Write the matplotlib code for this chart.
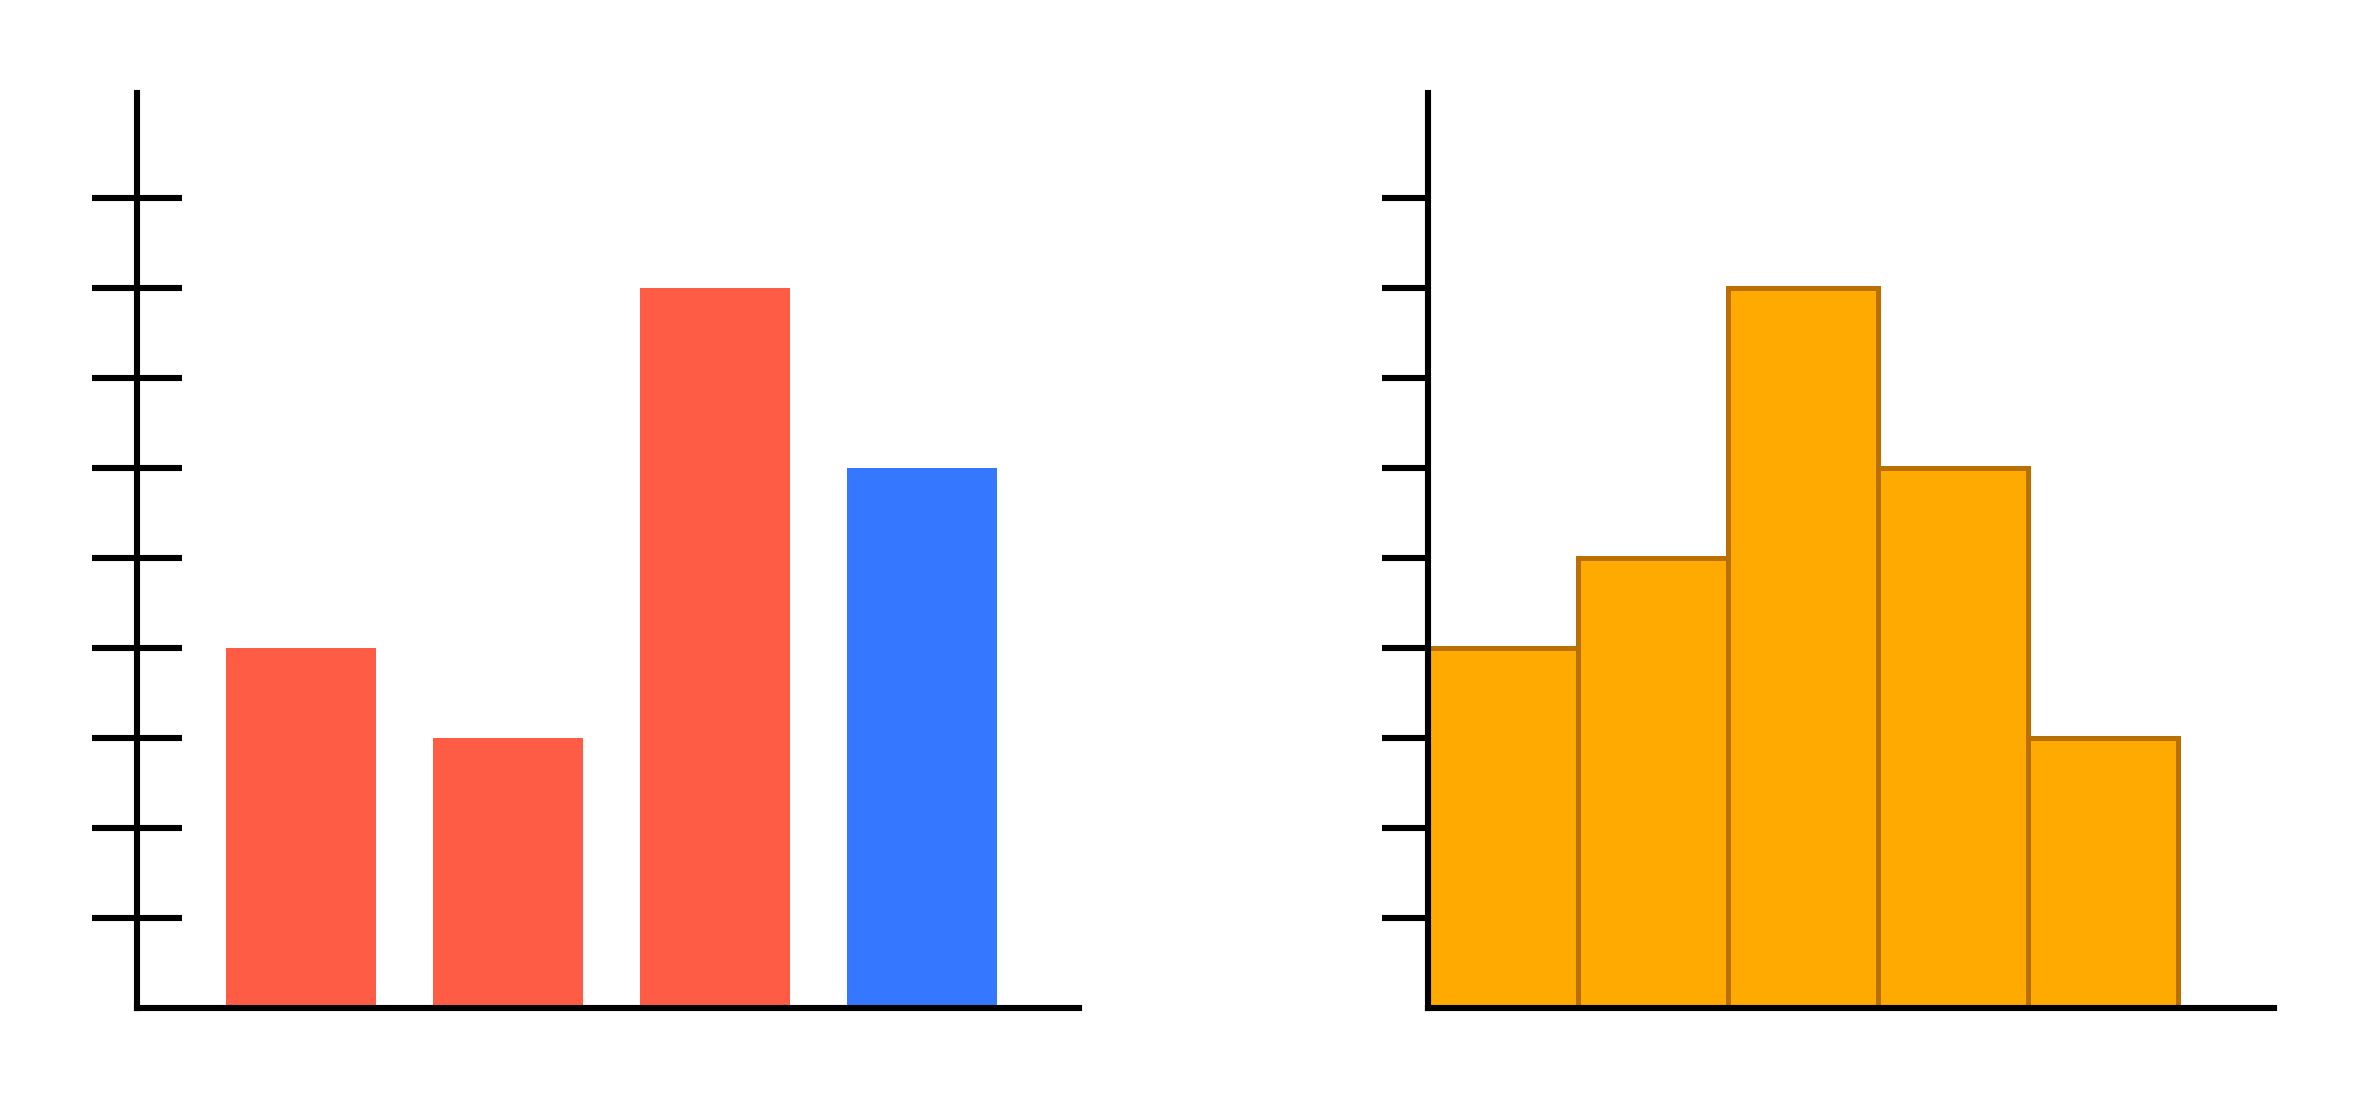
import matplotlib
matplotlib.use("Agg")
import matplotlib.pyplot as plt

# left panel: bar chart
bar_pos = [1, 2, 3, 4]
bar_vals = [4, 3, 8, 6]
bar_colors = ["#FF5C46", "#FF5C46", "#FF5C46", "#3578FF"]

# right panel: histogram (bin edges + counts)
bin_edges = [0, 1, 2, 3, 4, 5]
bin_counts = [4, 5, 8, 6, 3]

yticks = [1, 2, 3, 4, 5, 6, 7, 8, 9]

lw = 4.4

fig = plt.figure(figsize=(23.67, 10.98), dpi=100)
ax1 = fig.add_axes([0.0577, 0.0822, 0.398, 0.8331])
ax2 = fig.add_axes([0.6032, 0.0822, 0.3574, 0.8331])

ax1.bar(bar_pos, bar_vals, width=0.725, color=bar_colors)
ax1.set_xlim(0.208, 4.757)
ax1.set_ylim(0, 10.17)

ax2.bar(bin_edges[:-1], bin_counts, width=1, align="edge",
        color="#FFAA00", edgecolor="#B97000", linewidth=3.6)
ax2.set_xlim(0, 5.64)
ax2.set_ylim(0, 10.17)

for ax in (ax1, ax2):
    for s in ("top", "right"):
        ax.spines[s].set_visible(False)
    for s in ("left", "bottom"):
        ax.spines[s].set_linewidth(lw)
        ax.spines[s].set_color("black")
        ax.spines[s].set_zorder(5)
    ax.set_xticks([])
    ax.set_yticks(yticks)
    ax.set_yticklabels([])

ax1.tick_params(axis="y", direction="inout", length=64.8, width=lw)
ax2.tick_params(axis="y", direction="out", length=33, width=lw)

fig.savefig("out.png", dpi=100, facecolor="white")
